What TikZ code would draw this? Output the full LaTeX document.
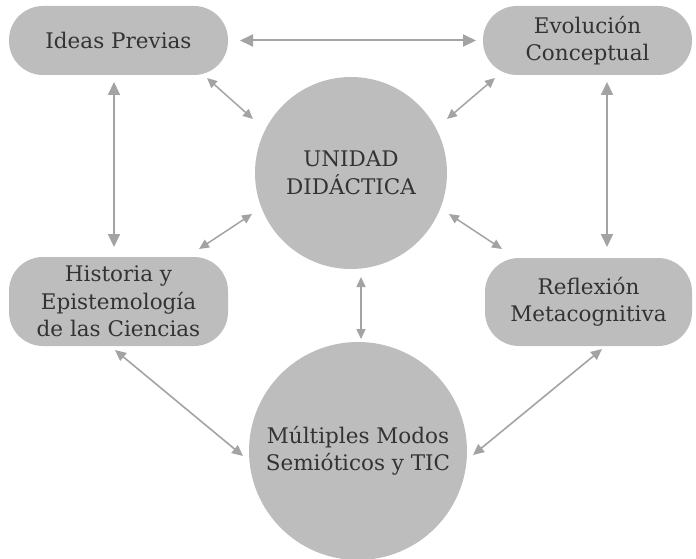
\documentclass[tikz,border=0pt]{standalone}
\usepackage{fontspec}
\setmainfont{DejaVu Serif}
\usetikzlibrary{arrows.meta}
\definecolor{boxgray}{HTML}{BDBDBD}
\definecolor{arrgray}{HTML}{A3A3A3}
\definecolor{txt}{HTML}{333333}
\tikzset{
  x=1pt,y=1pt,
  pill/.style={draw=none,fill=boxgray,rounded corners=34pt,inner sep=0pt,align=center,text=txt,
    font=\fontsize{21.5}{27.5}\selectfont},
  disc/.style={circle,draw=none,fill=boxgray,inner sep=0pt,align=center,text=txt,
    font=\fontsize{21.5}{27.5}\selectfont},
  bigarr/.style={draw=arrgray,line width=2pt,{Triangle[length=13pt,width=12pt]}-{Triangle[length=13pt,width=12pt]}},
  midarr/.style={draw=arrgray,line width=1.6pt,{Triangle[length=11pt,width=10pt]}-{Triangle[length=11pt,width=10pt]}},
  smallarr/.style={draw=arrgray,line width=1.5pt,{Triangle[length=10pt,width=9pt]}-{Triangle[length=10pt,width=9pt]}},
}
\begin{document}
\begin{tikzpicture}
\useasboundingbox (0,0) rectangle (696,-559);
\node[pill,minimum width=219pt,minimum height=69pt] (ideas) at (118.5,-40.5) {Ideas Previas};
\node[pill,minimum width=209pt,minimum height=69pt] (evol) at (587.5,-40.5) {Evolución\\Conceptual};
\node[pill,minimum width=219pt,minimum height=89pt] (hist) at (118.5,-301.5) {Historia y\\Epistemología\\de las Ciencias};
\node[pill,minimum width=207pt,minimum height=88pt] (refl) at (588.5,-302) {Reflexión\\Metacognitiva};
\node[disc,minimum size=192pt] (unidad) at (351,-173) {UNIDAD\\DIDÁCTICA};
\node[disc,minimum size=218pt] (multi) at (358,-451) {Múltiples Modos\\Semióticos y TIC};

\draw[bigarr] ([shift={(121.5,0)}]ideas.center) -- ([shift={(-111.5,0)}]evol.center);
\draw[bigarr] ([shift={(-4.5,-41.5)}]ideas.center) -- ([shift={(-4.5,54.5)}]hist.center);
\draw[bigarr] ([shift={(19.5,-41.5)}]evol.center) -- ([shift={(18.5,55)}]refl.center);
\draw[smallarr] ([shift={(88.5,-37.5)}]ideas.center) -- ([shift={(-98,54)}]unidad.center);
\draw[smallarr] ([shift={(-92.5,-37.5)}]evol.center) -- ([shift={(96,54)}]unidad.center);
\draw[smallarr] ([shift={(80.5,52.5)}]hist.center) -- ([shift={(-99,-41)}]unidad.center);
\draw[smallarr] ([shift={(-86.5,53)}]refl.center) -- ([shift={(98,-41)}]unidad.center);
\draw[midarr] ([shift={(-3.5,-48.5)}]hist.center) -- ([shift={(-115,-5)}]multi.center);
\draw[midarr] ([shift={(13.5,-47)}]refl.center) -- ([shift={(115,-4)}]multi.center);
\draw[smallarr] ([shift={(10,-104)}]unidad.center) -- ([shift={(3,112)}]multi.center);
\end{tikzpicture}
\end{document}
